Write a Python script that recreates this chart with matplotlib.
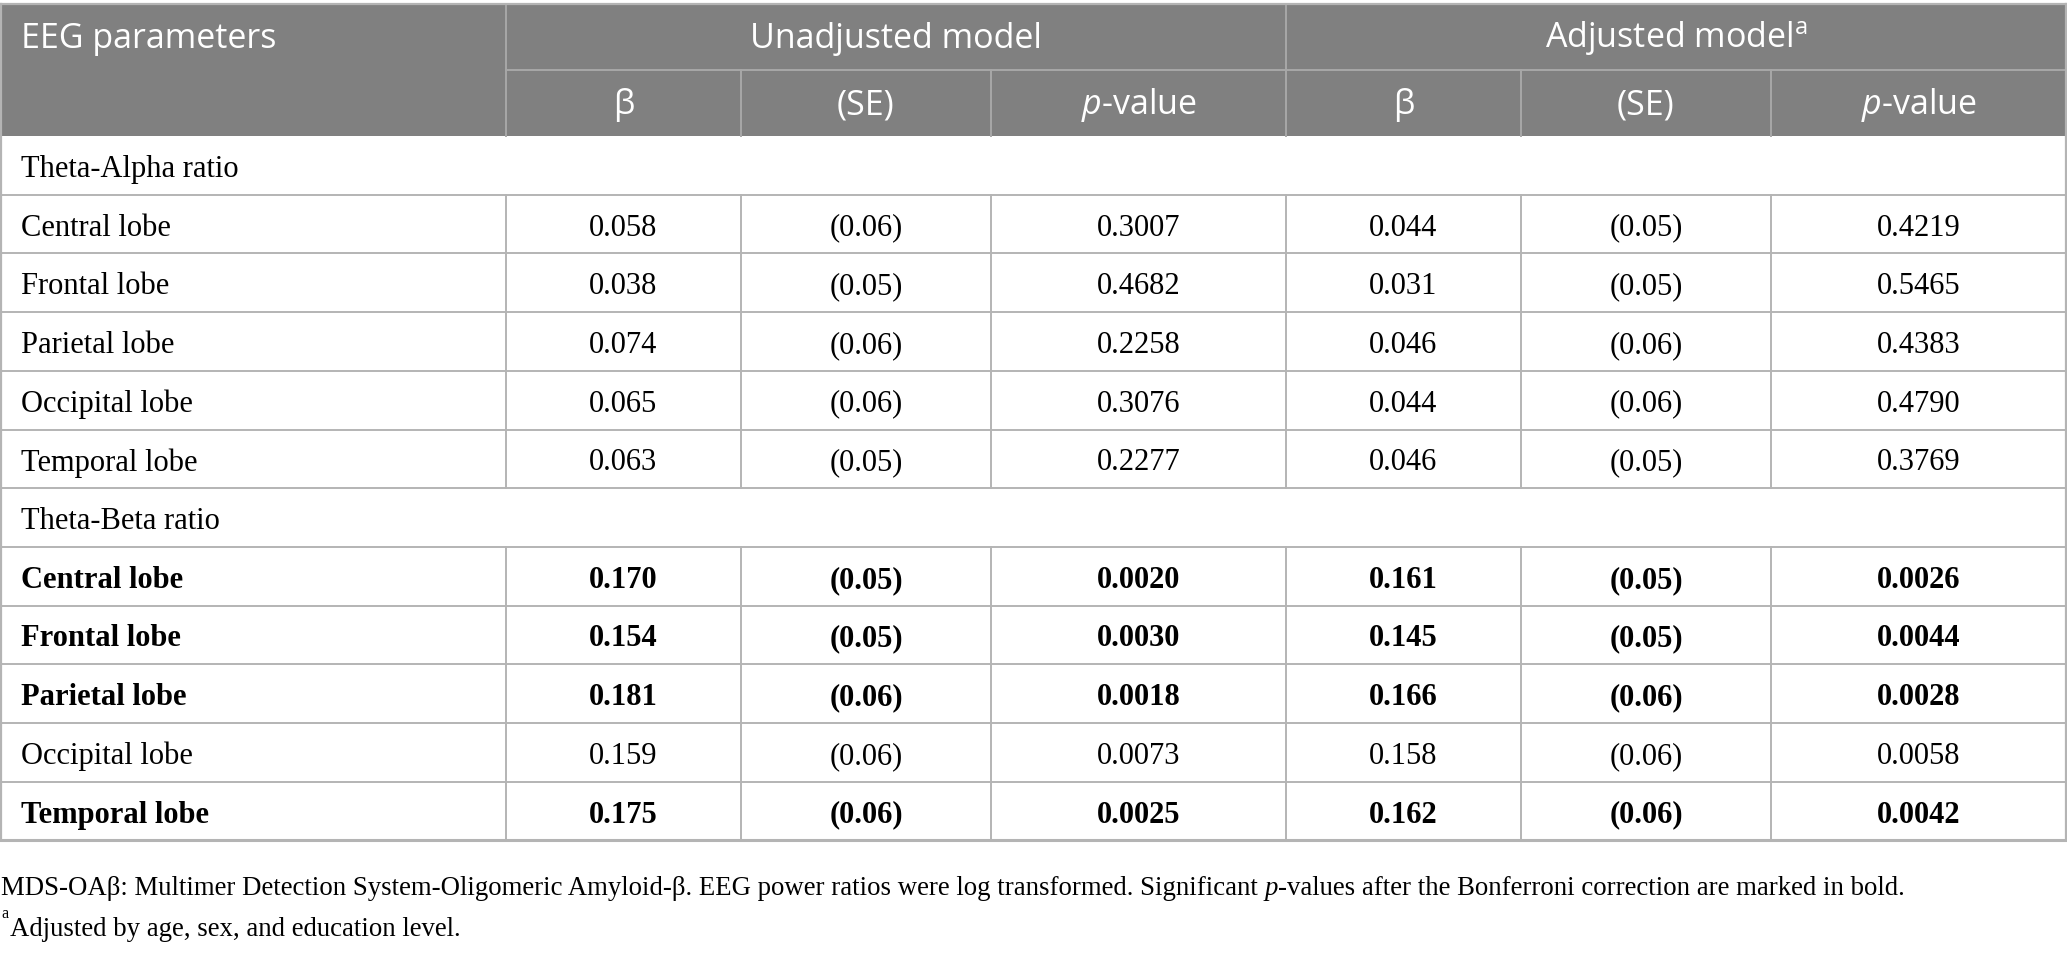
import matplotlib.pyplot as plt

plt.rcParams['mathtext.fontset'] = 'custom'
plt.rcParams['mathtext.rm'] = 'Open Sans'
plt.rcParams['mathtext.it'] = 'Open Sans:italic'

# table content
groups = ['Theta-Alpha ratio', 'Theta-Beta ratio']
regions = ['Central lobe', 'Frontal lobe', 'Parietal lobe', 'Occipital lobe', 'Temporal lobe']
beta_unadj = [[0.058, 0.038, 0.074, 0.065, 0.063], [0.170, 0.154, 0.181, 0.159, 0.175]]
se_unadj = [[0.06, 0.05, 0.06, 0.06, 0.05], [0.05, 0.05, 0.06, 0.06, 0.06]]
p_unadj = [[0.3007, 0.4682, 0.2258, 0.3076, 0.2277], [0.0020, 0.0030, 0.0018, 0.0073, 0.0025]]
beta_adj = [[0.044, 0.031, 0.046, 0.044, 0.046], [0.161, 0.145, 0.166, 0.158, 0.162]]
se_adj = [[0.05, 0.05, 0.06, 0.06, 0.05], [0.05, 0.05, 0.06, 0.06, 0.06]]
p_adj = [[0.4219, 0.5465, 0.4383, 0.4790, 0.3769], [0.0026, 0.0044, 0.0028, 0.0058, 0.0042]]
significant = [[False, False, False, False, False], [True, True, True, False, True]]

sub_headers = ['β', '(SE)', r'$\mathit{p}$-value']
note1 = ['MDS-OAβ: Multimer Detection System-Oligomeric Amyloid-β. EEG power ratios were log transformed. Significant ',
         'p', '-values after the Bonferroni correction are marked in bold.']
note2 = 'Adjusted by age, sex, and education level.'

# layout (pixels)
W, H = 2067, 955
cols = [0, 506, 741, 991, 1286, 1521, 1771, 2067]
top, h_mid, h_bot = 4, 70, 136
row_h = 58.7
n_rows = 12
bottom = h_bot + n_rows * row_h

head_fill = '#808080'
head_line = '#a8a8a8'
grid = '#b4b4b4'
serif = 'Liberation Serif'
sans = 'Open Sans'
fs_body = 22
fs_head = 24.5
fs_note = 19.3

fig = plt.figure(figsize=(W / 100, H / 100), dpi=100)
ax = fig.add_axes([0, 0, 1, 1])
ax.set_xlim(0, W)
ax.set_ylim(H, 0)
ax.axis('off')

# header block
ax.fill_between([0, W], top, h_bot, color=head_fill, lw=0)
ax.plot([cols[1], W], [h_mid, h_mid], color=head_line, lw=1.4)
ax.plot([cols[1], cols[1]], [top, h_bot], color=head_line, lw=1.4)
ax.plot([cols[4], cols[4]], [top, h_bot], color=head_line, lw=1.4)
for c in [cols[2], cols[3], cols[5], cols[6]]:
    ax.plot([c, c], [h_mid, h_bot], color=head_line, lw=1.4)

ax.text(21, (top + h_mid) / 2 + 2, 'EEG parameters', color='white', fontsize=fs_head,
        family=sans, va='center', ha='left')
ax.text((cols[1] + cols[4]) / 2, (top + h_mid) / 2 + 2, 'Unadjusted model', color='white',
        fontsize=fs_head, family=sans, va='center', ha='center')
ax.text((cols[4] + cols[7]) / 2, (top + h_mid) / 2 + 2, r'Adjusted model$^{\mathrm{a}}$', color='white',
        fontsize=fs_head, family=sans, va='center', ha='center')
for k in range(6):
    ax.text((cols[k + 1] + cols[k + 2]) / 2, (h_mid + h_bot) / 2 + 2, sub_headers[k % 3], color='white',
            fontsize=fs_head, family=sans, va='center', ha='center')

# body rows
r = 0
for g in range(len(groups)):
    y0 = h_bot + r * row_h
    ax.text(21, y0 + row_h / 2 + 4, groups[g], fontsize=fs_body, family=serif, va='center')
    ax.plot([0, W], [y0 + row_h, y0 + row_h], color=grid, lw=1.4)
    r += 1
    for i in range(len(regions)):
        y0 = h_bot + r * row_h
        yc = y0 + row_h / 2 + 4
        wt = 'bold' if significant[g][i] else 'normal'
        vals = [f'{beta_unadj[g][i]:.3f}', f'({se_unadj[g][i]:.2f})', f'{p_unadj[g][i]:.4f}',
                f'{beta_adj[g][i]:.3f}', f'({se_adj[g][i]:.2f})', f'{p_adj[g][i]:.4f}']
        ax.text(21, yc, regions[i], fontsize=fs_body, family=serif, va='center', weight=wt)
        for k, v in enumerate(vals):
            ax.text((cols[k + 1] + cols[k + 2]) / 2, yc, v, fontsize=fs_body, family=serif,
                    va='center', ha='center', weight=wt)
        for c in cols[1:-1]:
            ax.plot([c, c], [y0, y0 + row_h], color=grid, lw=1.4)
        ax.plot([0, W], [y0 + row_h, y0 + row_h], color=grid, lw=1.4)
        r += 1

# outer border
ax.plot([0.7, 0.7], [top, bottom], color=grid, lw=1.6)
ax.plot([W - 0.7, W - 0.7], [top, bottom], color=grid, lw=1.6)
ax.plot([0, W], [top, top], color=grid, lw=1.6)
ax.plot([0, W], [bottom, bottom], color=grid, lw=2.2)

# footnotes
t = ax.text(1, 888, note1[0], fontsize=fs_note, family=serif, va='center', ha='left')
t = ax.annotate(note1[1], xy=(1, 0), xycoords=t, fontsize=fs_note, family=serif, style='italic',
                va='bottom', ha='left')
ax.annotate(note1[2], xy=(1, 0), xycoords=t, fontsize=fs_note, family=serif, va='bottom', ha='left')
ax.text(1, 922, 'a', fontsize=fs_note * 0.6, family=serif, va='bottom', ha='left')
ax.text(10, 929, note2, fontsize=fs_note, family=serif, va='center', ha='left')

fig.savefig('out.png', dpi=100)
